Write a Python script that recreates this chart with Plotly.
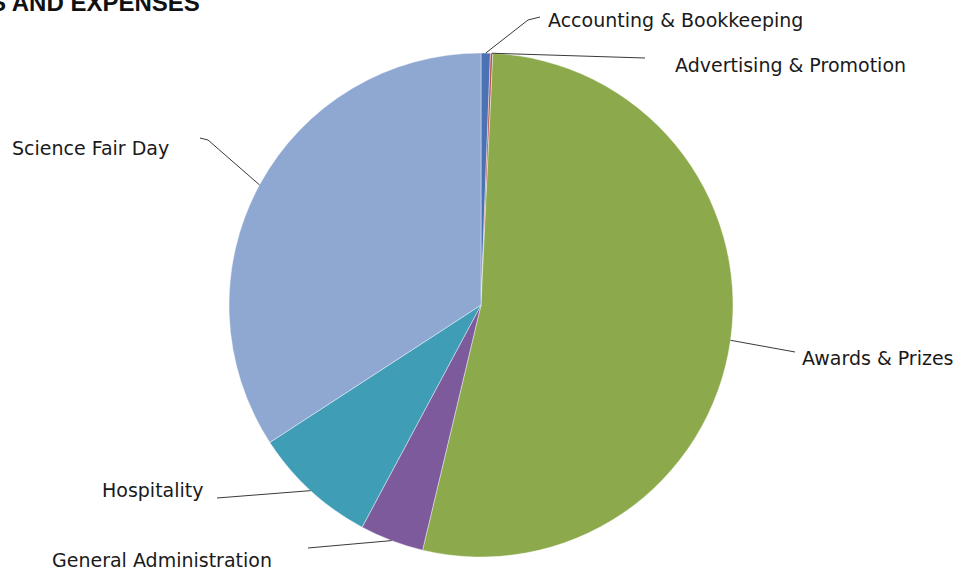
import plotly.graph_objects as go
import math

# ---- data ----
labels = ["Accounting & Bookkeeping", "Advertising & Promotion", "Awards & Prizes",
          "General Administration", "Hospitality", "Science Fair Day"]
values = [0.6, 0.15, 53.0, 4.1, 8.0, 34.2]
colors = ["#4A72B5", "#B8504B", "#8CA94B", "#7C5A9C", "#3F9DB6", "#8FA8D2"]
title_text = "S AND EXPENSES"

# ---- layout constants (pixels) ----
W, H = 967, 575
CX, CY, R = 481, 305, 252

# label text position (left x, center y) and leader path points after slice edge
label_pos = {
    "Accounting & Bookkeeping": (546, 20),
    "Advertising & Promotion": (673, 65),
    "Awards & Prizes": (800, 358),
    "General Administration": (50, 560),
    "Hospitality": (100, 490),
    "Science Fair Day": (10, 148),
}
leader_pts = {
    "Accounting & Bookkeeping": [(528, 20), (540, 17)],
    "Advertising & Promotion": [(645, 58)],
    "Awards & Prizes": [(795, 352)],
    "General Administration": [(308, 548)],
    "Hospitality": [(217, 498)],
    "Science Fair Day": [(208, 140), (200, 138)],
}


def px(x):
    return x / W


def py(y):
    return 1 - y / H


fig = go.Figure(go.Pie(
    labels=labels, values=values, sort=False, direction="clockwise", rotation=0,
    marker=dict(colors=colors, line=dict(color="rgba(255,255,255,0.6)", width=0.7)),
    textinfo="none", hoverinfo="label+percent", showlegend=False,
    domain=dict(x=[px(CX - R), px(CX + R)], y=[py(CY + R), py(CY - R)]),
))

total = sum(values)
cum = 0.0
shapes = []
annotations = []
for lab, v in zip(labels, values):
    mid = (cum + v / 2) / total
    cum += v
    ang = 2 * math.pi * mid
    ex = CX + R * math.sin(ang)
    ey = CY - R * math.cos(ang)
    pts = [(ex, ey)] + leader_pts[lab]
    path = "M " + " L ".join(f"{px(x):.5f},{py(y):.5f}" for x, y in pts)
    shapes.append(dict(type="path", path=path, xref="paper", yref="paper",
                       line=dict(color="#3a3a3a", width=1)))
    lx, ly = label_pos[lab]
    annotations.append(dict(text=lab, x=px(lx), y=py(ly), xref="paper", yref="paper",
                            xanchor="left", yanchor="middle", showarrow=False,
                            font=dict(family="DejaVu Sans", size=19, color="#1a1a1a")))

annotations.append(dict(text="<b>" + title_text + "</b>", x=0, y=1, xref="paper", yref="paper",
                        xanchor="left", yanchor="middle", showarrow=False, xshift=-12, yshift=-2,
                        font=dict(family="Liberation Sans", size=24, color="#111111")))

fig.update_layout(width=W, height=H, autosize=False,
                  margin=dict(l=0, r=0, t=0, b=0),
                  paper_bgcolor="white", plot_bgcolor="white",
                  shapes=shapes, annotations=annotations)

fig.write_html("out.html")
